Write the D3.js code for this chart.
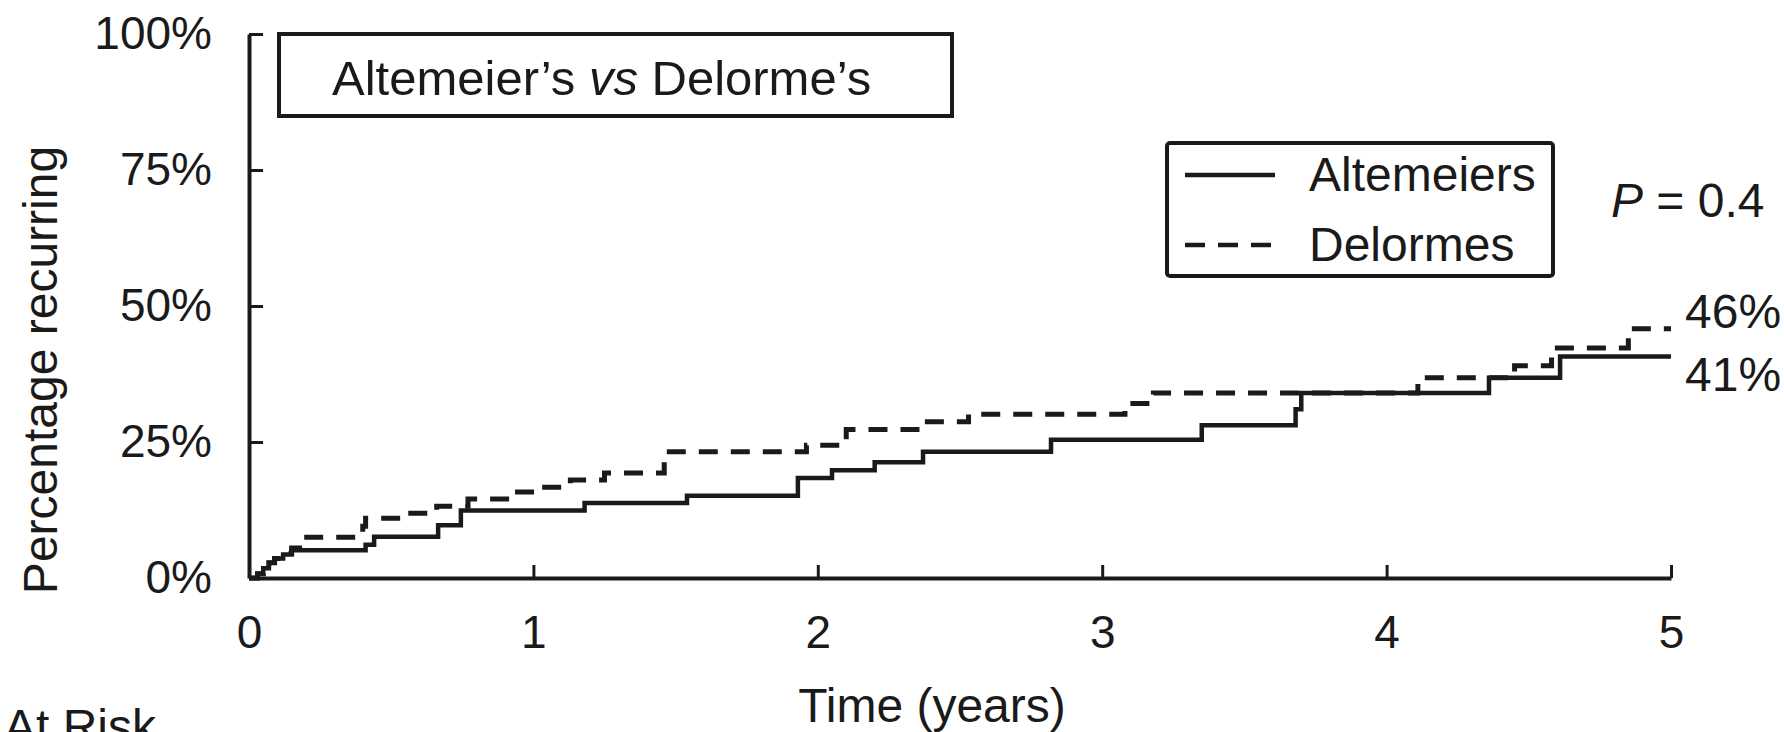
<!DOCTYPE html>
<html>
<head>
<meta charset="utf-8">
<script src="https://cdn.jsdelivr.net/npm/d3@7/dist/d3.min.js"></script>
<style>
  body { margin: 0; background: #fff; }
  svg text { font-family: "Liberation Sans", Arial, Helvetica, sans-serif; fill: #1a1a1a; }
</style>
</head>
<body>
<div id="visual-container"></div>
<script>
// Kaplan-Meier style step data (years, % recurring)
const altTime = [0, 0.03, 0.05, 0.07, 0.09, 0.12, 0.15, 0.41, 0.44, 0.665, 0.745, 1.18, 1.54, 1.93, 2.05, 2.20, 2.37, 2.82, 3.35, 3.68, 3.70, 4.36, 4.61, 5.0]
const altPct  = [0, 0.8, 1.8, 2.8, 3.6, 4.3, 5.1, 6.1, 7.6, 9.7, 12.4, 13.8, 15.1, 18.4, 19.8, 21.3, 23.2, 25.4, 28.1, 31.0, 34.0, 36.8, 40.7, 40.7]

const delTime = [0, 0.03, 0.05, 0.07, 0.09, 0.12, 0.15, 0.19, 0.40, 0.41, 0.55, 0.66, 0.77, 0.93, 1.02, 1.13, 1.25, 1.46, 1.96, 2.10, 2.37, 2.53, 3.08, 3.18, 4.11, 4.45, 4.58, 4.85, 5.0]
const delPct  = [0, 0.8, 1.8, 2.8, 3.6, 4.5, 5.5, 7.5, 9.5, 11.0, 11.9, 13.2, 14.5, 15.8, 16.7, 18.0, 19.3, 23.2, 24.4, 27.3, 28.7, 30.1, 32.1, 34.0, 36.8, 39.0, 42.3, 45.8, 45.8]

const xTicks = [0, 1, 2, 3, 4, 5]
const yTicks = [0, 25, 50, 75, 100]
const seriesNames = ['Altemeiers', 'Delormes']
const endLabels = ['41%', '46%']

const width = 1784
const height = 732
const ink = '#1a1a1a'

const svg = d3.select('#visual-container')
    .append('svg')
    .attr('width', width)
    .attr('height', height)

const xScale = d3.scaleLinear().domain([0, 5]).range([249, 1671])
const yScale = d3.scaleLinear().domain([0, 100]).range([578, 34])

// axes
const xAxis = d3.axisBottom(xScale)
    .tickValues(xTicks)
    .tickFormat(d3.format('d'))
    .tickSizeInner(-13)
    .tickSizeOuter(0)
    .tickPadding(37)
const gx = svg.append('g')
    .attr('id', 'x-axis')
    .attr('transform', 'translate(0,' + yScale(0) + ')')
    .call(xAxis)

const yAxis = d3.axisLeft(yScale)
    .tickValues(yTicks)
    .tickFormat(d => d + '%')
    .tickSizeInner(-14)
    .tickSizeOuter(0)
    .tickPadding(37)
const gy = svg.append('g')
    .attr('id', 'y-axis')
    .attr('transform', 'translate(' + xScale(0) + ',0)')
    .call(yAxis)

for (const g of [gx, gy]) {
    g.select('.domain').attr('stroke', ink).attr('stroke-width', 4)
    g.selectAll('.tick line').attr('stroke', ink).attr('stroke-width', 3)
    g.selectAll('.tick text')
        .attr('fill', ink)
        .style('font-size', '46px')
        .style('font-family', '"Liberation Sans", Arial, sans-serif')
}
gx.selectAll('.tick').filter(d => d === 0).select('line').remove()

// step curves
const line = d3.line()
    .x(d => xScale(d[0]))
    .y(d => yScale(d[1]))
    .curve(d3.curveStepAfter)

svg.append('path')
    .datum(delTime.map((t, i) => [t, delPct[i]]))
    .attr('fill', 'none')
    .attr('stroke', ink)
    .attr('stroke-width', 5)
    .attr('stroke-dasharray', '19,13')
    .attr('d', line)

svg.append('path')
    .datum(altTime.map((t, i) => [t, altPct[i]]))
    .attr('fill', 'none')
    .attr('stroke', ink)
    .attr('stroke-width', 4.5)
    .attr('d', line)

// axis titles
svg.append('text')
    .attr('transform', 'translate(57,370) rotate(-90)')
    .attr('text-anchor', 'middle')
    .style('font-size', '48px')
    .text('Percentage recurring')

svg.append('text')
    .attr('x', 932)
    .attr('y', 722)
    .attr('text-anchor', 'middle')
    .style('font-size', '48px')
    .text('Time (years)')

svg.append('text')
    .attr('x', 4)
    .attr('y', 743)
    .style('font-size', '48px')
    .text('At Risk')

// title box
svg.append('rect')
    .attr('x', 279).attr('y', 34)
    .attr('width', 673).attr('height', 82)
    .attr('fill', 'none')
    .attr('stroke', ink)
    .attr('stroke-width', 4)

const title = svg.append('text')
    .attr('x', 332)
    .attr('y', 95)
    .style('font-size', '49px')
title.append('tspan').text('Altemeier\u2019s ')
title.append('tspan').style('font-style', 'italic').text('vs')
title.append('tspan').text(' Delorme\u2019s')

// legend
const legend = svg.append('g').attr('id', 'legend')
legend.append('rect')
    .attr('x', 1167).attr('y', 143)
    .attr('width', 386).attr('height', 133)
    .attr('rx', 3)
    .attr('fill', 'none')
    .attr('stroke', ink)
    .attr('stroke-width', 4)

seriesNames.forEach((name, i) => {
    const ly = 175 + i * 70
    legend.append('line')
        .attr('x1', 1185).attr('x2', 1275)
        .attr('y1', ly).attr('y2', ly)
        .attr('stroke', ink)
        .attr('stroke-width', 4.5)
        .attr('stroke-dasharray', i === 1 ? '20,13' : null)
    legend.append('text')
        .attr('x', 1309)
        .attr('y', ly + 16)
        .style('font-size', '48px')
        .text(name)
})

const pText = svg.append('text')
    .attr('x', 1611)
    .attr('y', 217)
    .style('font-size', '48px')
pText.append('tspan').style('font-style', 'italic').text('P')
pText.append('tspan').text(' = 0.4')

// end labels
svg.append('text')
    .attr('x', 1685).attr('y', 391)
    .style('font-size', '48px')
    .text(endLabels[0])
svg.append('text')
    .attr('x', 1685).attr('y', 328)
    .style('font-size', '48px')
    .text(endLabels[1])
</script>
</body>
</html>
